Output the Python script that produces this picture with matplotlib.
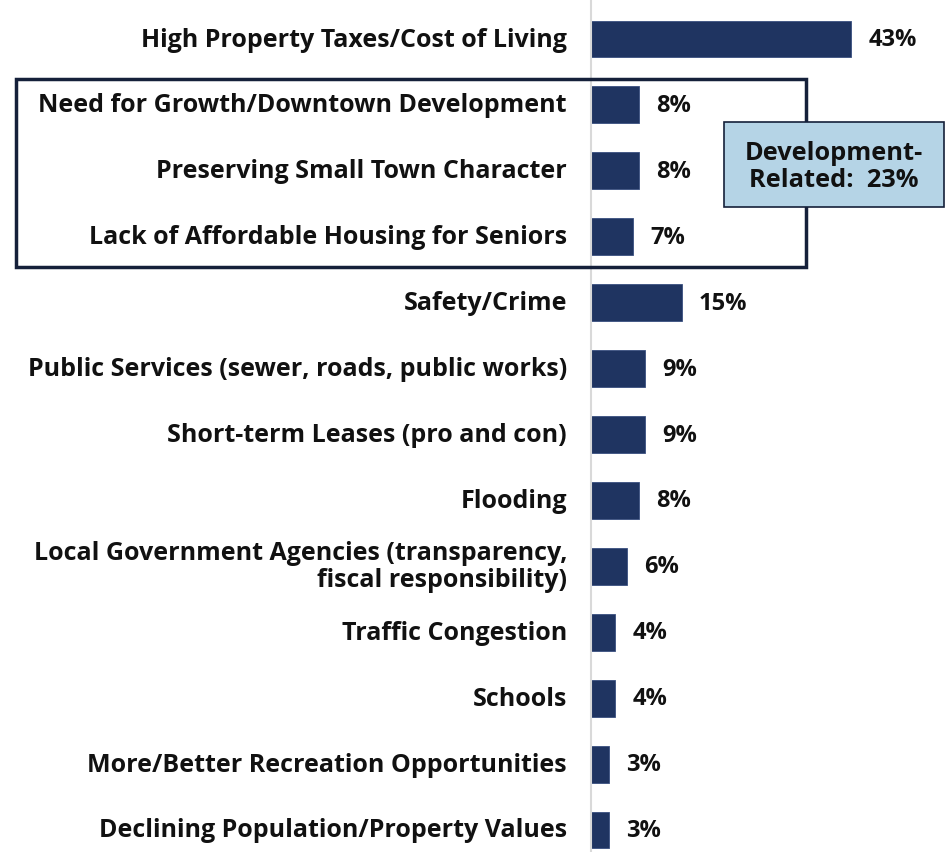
import matplotlib.pyplot as plt
from matplotlib.patches import Rectangle

categories = [
    "High Property Taxes/Cost of Living",
    "Need for Growth/Downtown Development",
    "Preserving Small Town Character",
    "Lack of Affordable Housing for Seniors",
    "Safety/Crime",
    "Public Services (sewer, roads, public works)",
    "Short-term Leases (pro and con)",
    "Flooding",
    "Local Government Agencies (transparency,\nfiscal responsibility)",
    "Traffic Congestion",
    "Schools",
    "More/Better Recreation Opportunities",
    "Declining Population/Property Values",
]
values = [43, 8, 8, 7, 15, 9, 9, 8, 6, 4, 4, 3, 3]
callout_text = "Development-\nRelated:  23%"

navy = "#1f3461"
font = ["Open Sans", "DejaVu Sans"]

fig = plt.figure(figsize=(9.46, 8.53), dpi=100)
ax = fig.add_axes([591 / 946, 0, 355 / 946, 1])

y = list(range(len(categories)))
ax.barh(y, values, height=0.56, color=navy, edgecolor="#3a5080", linewidth=0.6)
ax.set_ylim(12 + 22 / 65.9, -40 / 65.9)
ax.set_xlim(0, 355 / 6.05)

for i, (cat, v) in enumerate(zip(categories, values)):
    ax.annotate(cat, xy=(0, i), xytext=(-24, 0), textcoords="offset pixels",
                ha="right", va="center", fontsize=18, fontweight="bold",
                family=font, color="#111111", linespacing=1.12,
                annotation_clip=False)
    ax.annotate(f"{v}%", xy=(v, i), xytext=(17, 0), textcoords="offset pixels",
                ha="left", va="center", fontsize=17, fontweight="bold",
                family=font, color="#111111")

ax.set_xticks([])
ax.set_yticks([])
for s in ["top", "right", "bottom"]:
    ax.spines[s].set_visible(False)
ax.spines["left"].set_color("#d9d9d9")
ax.spines["left"].set_linewidth(1.5)

# outline around development-related rows
fig.patches.append(Rectangle((16 / 946, 1 - 268 / 853), (806 - 16) / 946, (268 - 80) / 853,
                             transform=fig.transFigure, fill=False,
                             edgecolor="#15203a", linewidth=2.5, zorder=5))

# callout box
fig.patches.append(Rectangle((724 / 946, 1 - 208 / 853), (944 - 724) / 946, (208 - 123) / 853,
                             transform=fig.transFigure, facecolor="#b5d4e6",
                             edgecolor="#15203a", linewidth=1.2, zorder=6))
fig.text((724 + 944) / 2 / 946, 1 - 167 / 853, callout_text, ha="center", va="center",
         fontsize=18.3, fontweight="bold", family=font, color="#111111",
         linespacing=1.15, zorder=7)

fig.savefig("out.png", dpi=100)
